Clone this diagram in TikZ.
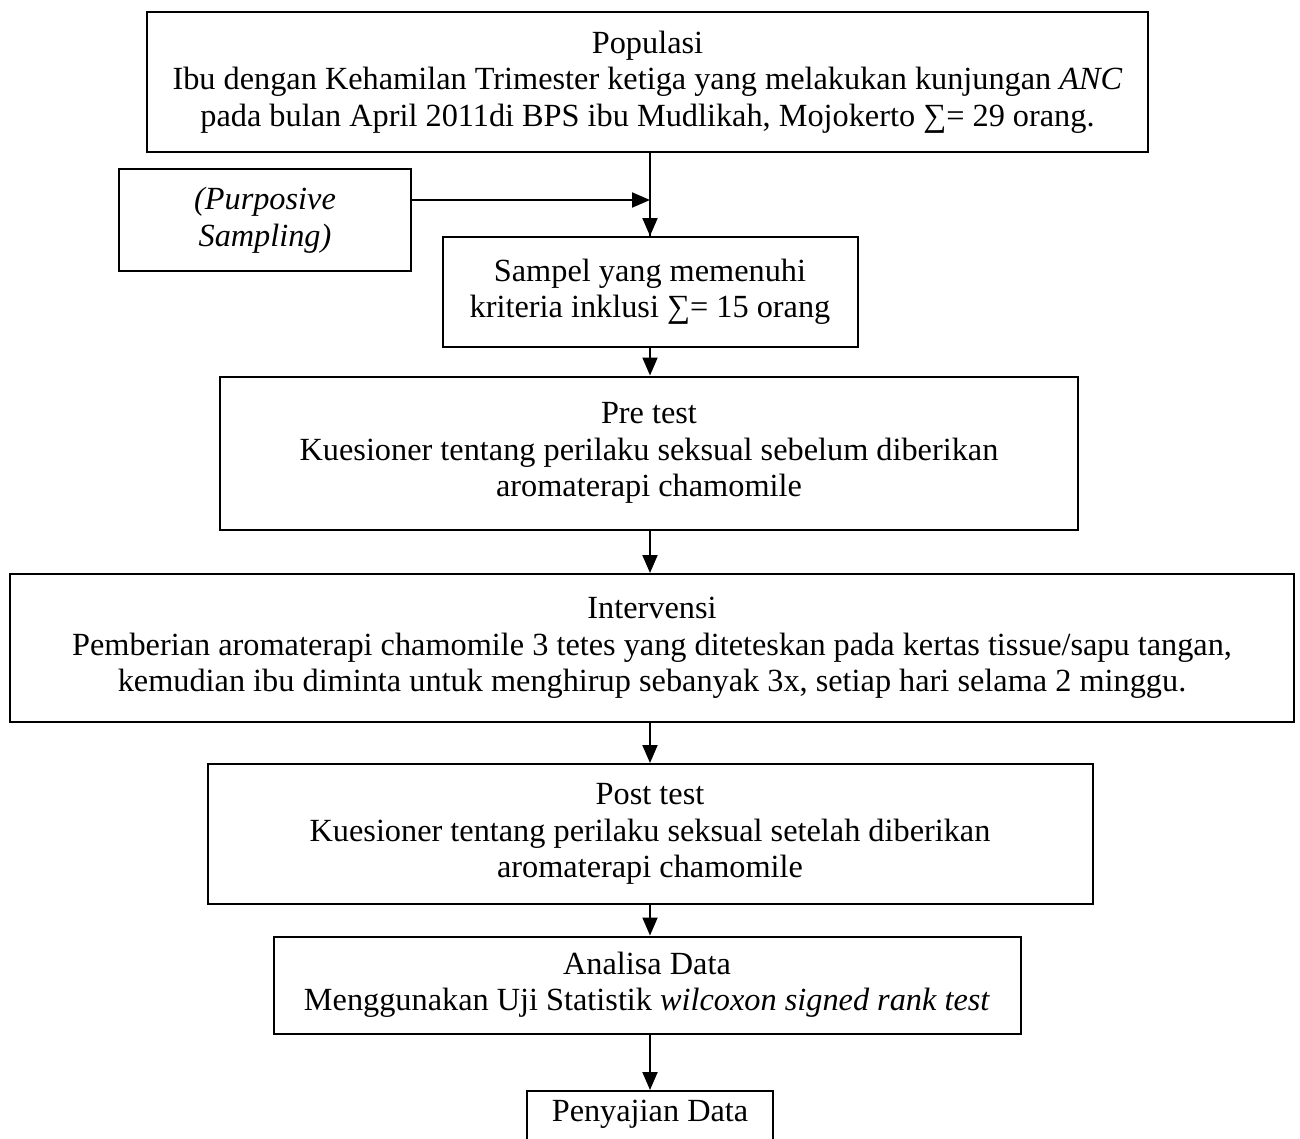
\documentclass[tikz,border=0pt]{standalone}
\usepackage{fontspec}
\setmainfont{Liberation Serif}
\usetikzlibrary{arrows.meta}
\begin{document}
\begin{tikzpicture}[x=1pt,y=-1pt,
  box/.style={draw,line width=2pt,align=center,inner sep=0pt,font=\fontsize{32.3}{36.5}\selectfont},
  arr/.style={line width=2pt,-{Triangle[length=18pt,width=15pt]}}]
\useasboundingbox (0,0) rectangle (1300,1138);
\clip (0,0) rectangle (1300,1138);
\node[box,minimum width=1001pt,minimum height=140pt] (pop) at (647.5,82) {Populasi\\Ibu dengan Kehamilan Trimester ketiga yang melakukan kunjungan \textit{ANC}\\pada bulan April 2011di BPS ibu Mudlikah, Mojokerto ∑= 29 orang.};
\node[box,minimum width=292pt,minimum height=102pt] (purp) at (265,220) {\textit{(Purposive}\\\textit{Sampling)}};
\node[box,minimum width=415pt,minimum height=110pt] (samp) at (650,292) {Sampel yang memenuhi\\kriteria inklusi ∑= 15 orang};
\node[box,minimum width=858pt,minimum height=153pt] (pre) at (649,453) {Pre test\\Kuesioner tentang perilaku seksual sebelum diberikan\\aromaterapi chamomile};
\node[box,minimum width=1284pt,minimum height=148pt] (int) at (652,648) {Intervensi\\Pemberian aromaterapi chamomile 3 tetes yang diteteskan pada kertas tissue/sapu tangan,\\kemudian ibu diminta untuk menghirup sebanyak 3x, setiap hari selama 2 minggu.};
\node[box,minimum width=885pt,minimum height=140pt] (post) at (650,834) {Post test\\Kuesioner tentang perilaku seksual setelah diberikan\\aromaterapi chamomile};
\node[box,minimum width=747pt,minimum height=97pt] (ana) at (647,985) {Analisa Data\\Menggunakan Uji Statistik \textit{wilcoxon signed rank test}};
\node[box,minimum width=246pt,minimum height=96pt,anchor=north] (pen) at (650,1090) {};
\node[font=\fontsize{32.3}{36.5}\selectfont] (pent) at (650,1114) {Penyajian Data};
\coordinate (purpout) at ([yshift=20pt]purp.east);
\coordinate (join) at (purpout -| samp.north);
\draw[line width=2pt] (pop.south -| samp.north) -- (samp.north);
\draw[arr] (purpout) -- (join);
\draw[arr] (join) -- (samp.north);
\draw[arr] (samp.south) -- (samp.south |- pre.north);
\draw[arr] (samp.south |- pre.south) -- (samp.south |- int.north);
\draw[arr] (samp.south |- int.south) -- (samp.south |- post.north);
\draw[arr] (post.south) -- (post.south |- ana.north);
\draw[arr] (ana.south -| pen.north) -- (pen.north);
\end{tikzpicture}
\end{document}
